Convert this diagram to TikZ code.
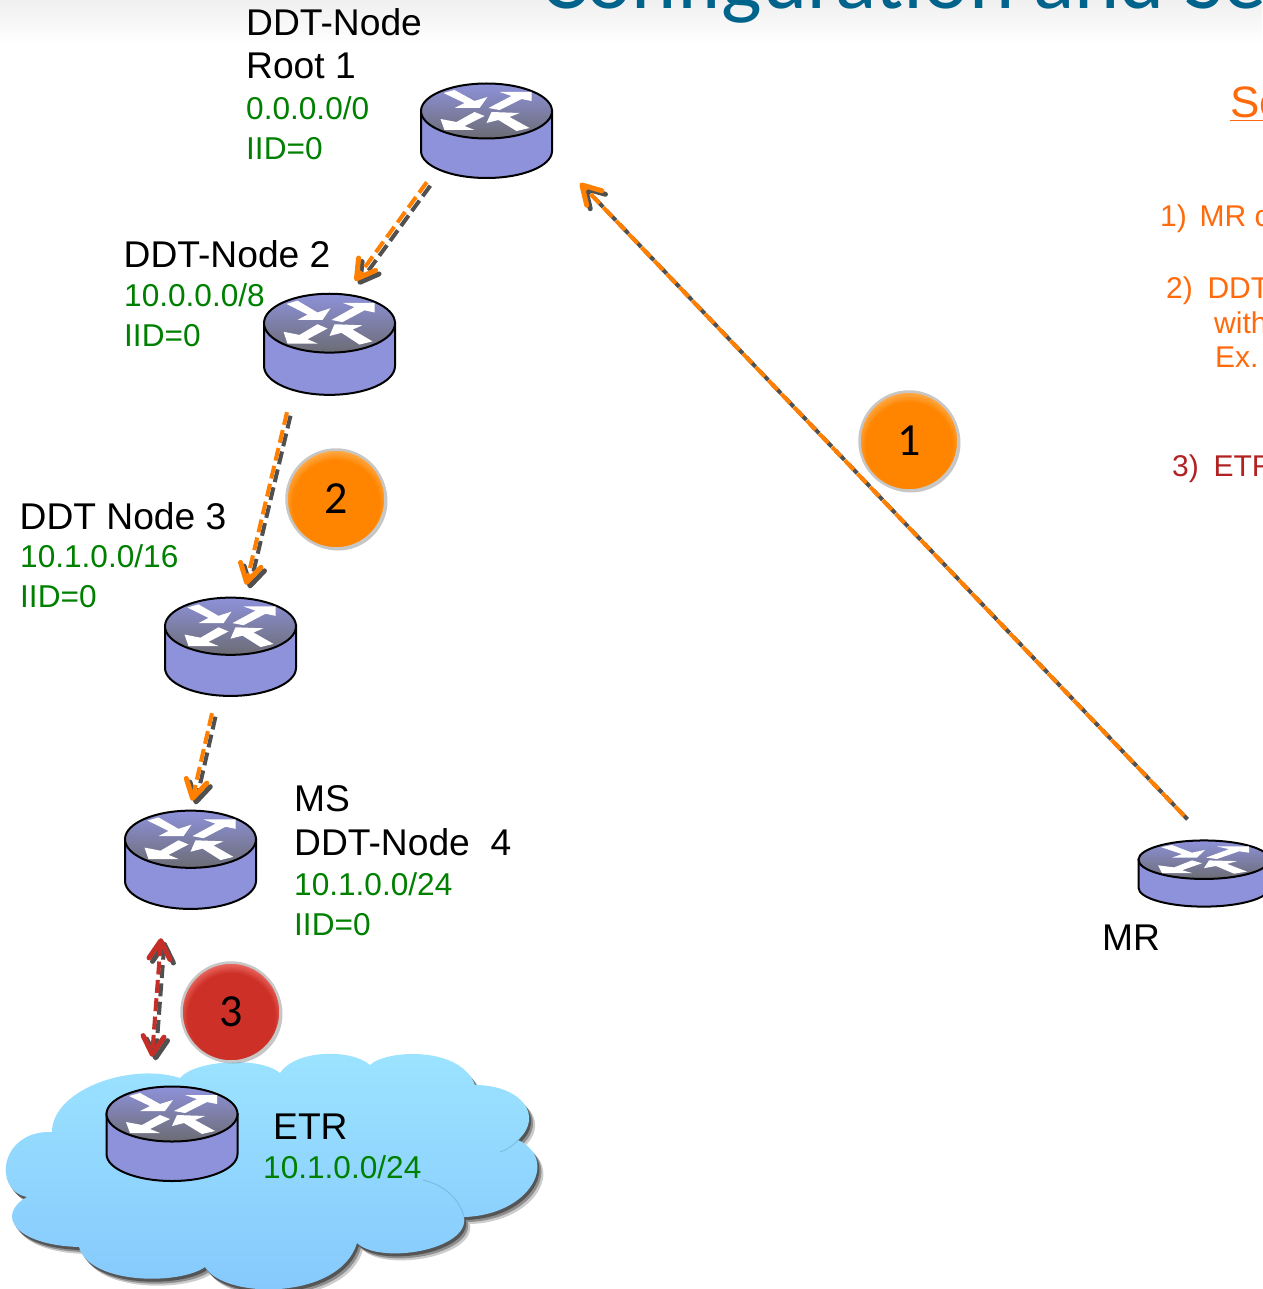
\documentclass[tikz,border=0pt]{standalone}
\usepackage{fontspec}
\setmainfont{Liberation Sans}
\newfontfamily\calfont{Carlito}
\usetikzlibrary{arrows.meta,shadows}

\definecolor{routerblue}{HTML}{8E92DA}
\definecolor{routergray}{HTML}{6C6C74}
\definecolor{addrgreen}{HTML}{008000}
\definecolor{titleblue}{HTML}{00638C}
\definecolor{steporange}{HTML}{FF6A0C}
\definecolor{stepred}{HTML}{B22222}
\definecolor{ballorange}{HTML}{FF8500}
\definecolor{ballorangelight}{HTML}{FFAE50}
\definecolor{ballred}{HTML}{CC3027}
\definecolor{ballredlight}{HTML}{EC6C64}
\definecolor{lineorange}{HTML}{FF8000}
\definecolor{linered}{HTML}{C42E26}
\definecolor{lineshadow}{HTML}{505050}
\definecolor{cloudtop}{HTML}{9CE4FF}
\definecolor{cloudbottom}{HTML}{85C8FD}

\pgfdeclareradialshading{orangeshade}{\pgfpoint{0bp}{-3bp}}{color(0bp)=(ballorange); color(22bp)=(ballorange); color(27bp)=(ballorangelight); color(100bp)=(ballorangelight)}
\pgfdeclareradialshading{redshade}{\pgfpoint{0bp}{-3bp}}{color(0bp)=(ballred); color(22bp)=(ballred); color(27bp)=(ballredlight); color(100bp)=(ballredlight)}

\begin{document}
\begin{tikzpicture}[x=1pt,y=1pt,>={Straight Barb[length=18pt,width=21pt,line width=5pt,round]}]
  \tikzstyle{router}[1]=[rectangle,inner sep=0pt,minimum width=136,minimum height=#1*100,
    path picture={
      \begin{scope}[shift={(path picture bounding box.center)},y=#1pt]
        \filldraw[fill=routerblue,draw=black,line width=2pt] (-65.5,19) -- (-65.5,-21)
          .. controls (-65.5,-36) and (-36,-48) .. (0,-48)
          .. controls (36,-48) and (65.5,-36) .. (65.5,-21) -- (65.5,19) -- cycle;
        \shade[top color=routerblue,bottom color=routergray,draw=black,line width=2pt]
          (0,19) ellipse (65.5 and 27.5);
        \fill[white] (-43,37) -- (-32,40) -- (-12,29) -- (1,33) -- (-7,22) -- (-32,22) -- (-22,27) -- cycle;
        \fill[white] (2,22) -- (25,34) -- (13,38) -- (45,38) -- (45,29) -- (35,31) -- (13,20) -- cycle;
        \fill[white] (-2,14) -- (-12,18) -- (-30,8) -- (-46,11) -- (-42,0) -- (-12,0) -- (-22,4) -- cycle;
        \fill[white] (0,7) -- (5,18) -- (33,17) -- (23,13) -- (43,2) -- (30,-1) -- (12,10) -- cycle;
      \end{scope}}]
  \tikzstyle{nodelabel}=[inner sep=0pt,anchor=base west,font=\fontsize{37.2}{42}\selectfont]
  \tikzstyle{addr}=[inner sep=0pt,anchor=base west,text=addrgreen,font=\fontsize{31.6}{36}\selectfont]
  \tikzstyle{steptext}=[inner sep=0pt,anchor=base west,text=steporange,font=\fontsize{30}{34}\selectfont]
  \tikzstyle{flow}=[line width=4pt,dash pattern=on 13pt off 5.4pt]
  \tikzstyle{ball}[1]=[circle,minimum size=99,inner sep=0pt,draw=black!22,line width=2.5pt,
    shade,shading=#1shade,
    drop shadow={shadow xshift=2pt,shadow yshift=-2pt,opacity=.45},
    font=\calfont\fontsize{46}{50}\selectfont]

  \useasboundingbox (0,0) rectangle (1262,-1289);

  % header band and title
  \shade[top color=black!6,bottom color=white] (0,0) rectangle (1262,-44);
  \node[inner sep=0pt,anchor=base west,text=titleblue,font=\calfont\fontsize{86}{90}\selectfont] (title) at (540,-9) {Configuration and Se};

  % cloud
  \shade[top color=cloudtop,bottom color=cloudbottom,
    drop shadow={shadow xshift=6pt,shadow yshift=-7pt,opacity=.2,fill=black},
    drop shadow={shadow xshift=4pt,shadow yshift=-5pt,opacity=.3,fill=black},
    drop shadow={shadow xshift=2pt,shadow yshift=-3pt,opacity=.4,fill=black}]
    (27,-1197) .. controls (-8,-1190) and (0,-1130) .. (52,-1132)
    .. controls (52,-1090) and (130,-1062) .. (180,-1078)
    .. controls (195,-1060) and (260,-1056) .. (280,-1073)
    .. controls (295,-1050) and (350,-1048) .. (370,-1065)
    .. controls (385,-1050) and (460,-1045) .. (475,-1085)
    .. controls (520,-1085) and (545,-1115) .. (518,-1140)
    .. controls (560,-1160) and (530,-1215) .. (464,-1217)
    .. controls (470,-1250) and (380,-1265) .. (357,-1243)
    .. controls (340,-1300) and (225,-1300) .. (205,-1267)
    .. controls (180,-1285) and (90,-1285) .. (79,-1247)
    .. controls (15,-1245) and (-5,-1215) .. (27,-1197) -- cycle;
  \draw[cloudbottom!70!black,opacity=.35,line width=1pt] (423,-1180) .. controls (445,-1185) and (460,-1200) .. (464,-1217);
  \draw[cloudbottom!70!black,opacity=.35,line width=1pt] (500,-1152) .. controls (508,-1149) and (514,-1145) .. (518,-1140);

  % routers
  \node[router=1] (R1) at (486.5,-130) {};
  \node[router=1.07] (R2) at (329.5,-343.5) {};
  \node[router=1.04] (R3) at (230.5,-646) {};
  \node[router=1.04] (R4) at (190.5,-859) {};
  \node[router=1] (ETR) at (172,-1133) {};
  \node[router=.7] (MR) at (1204,-873) {};

  % labels
  \node[nodelabel] (t1a) at (246,-36) {DDT-Node};
  \node[nodelabel] (t1b) at (246,-79) {Root 1};
  \node[addr] (a1a) at (246,-120) {0.0.0.0/0};
  \node[addr] (a1b) at (246,-160) {IID=0};
  \node[nodelabel] (t2) at (123.5,-267) {DDT-Node 2};
  \node[addr] (a2a) at (124,-306) {10.0.0.0/8};
  \node[addr] (a2b) at (124,-346) {IID=0};
  \node[nodelabel] (t3) at (19.5,-529) {DDT Node 3};
  \node[addr] (a3a) at (20,-567) {10.1.0.0/16};
  \node[addr] (a3b) at (20,-607) {IID=0};
  \node[nodelabel] (t4a) at (294,-811) {MS};
  \node[nodelabel] (t4b) at (294,-855) {DDT-Node\ \ 4};
  \node[addr] (a4a) at (294,-895) {10.1.0.0/24};
  \node[addr] (a4b) at (294,-935) {IID=0};
  \node[nodelabel] (t5) at (273,-1139) {ETR};
  \node[addr] (a5) at (263,-1178) {10.1.0.0/24};
  \node[nodelabel] (t6) at (1102,-950) {MR};

  % steps on the right
  \node[steptext,font=\fontsize{44}{50}\selectfont] (s0) at (1230,-118) {\underline{Se}};
  \node[steptext] (s1) at (1160,-227) {1)\hspace{12.7pt}MR c};
  \node[steptext] (s2) at (1166,-298) {2)\hspace{14.7pt}DDT};
  \node[steptext] (s2b) at (1214,-333) {with};
  \node[steptext] (s2c) at (1215,-367) {Ex.};
  \node[steptext,text=stepred] (s3) at (1172,-476) {3)\hspace{14.7pt}ETR};

  % connectors
  \foreach \col/\dx/\dy in {lineshadow/3.5/-3.5,lineorange/0/0} {
    \begin{scope}[transform canvas={xshift=\dx,yshift=\dy}]
      \draw[flow,draw=\col,->] ([xshift=-20,yshift=22]MR.north) -- ([xshift=25.5,yshift=-3]R1.south east);
      \draw[flow,draw=\col,->] ([xshift=8.5,yshift=-2]R1.south west) -- ([xshift=25.5,yshift=9]R2.north);
      \draw[flow,draw=\col,->] ([xshift=-42.5,yshift=-15]R2.south) -- ([xshift=15.5,yshift=9]R3.north);
      \draw[flow,draw=\col,->] ([xshift=-18.5,yshift=-15]R3.south) -- ([xshift=1.5,yshift=6]R4.north);
    \end{scope}
  }
  \foreach \col/\dx/\dy in {lineshadow/3.5/-3.5,linered/0/0} {
    \begin{scope}[transform canvas={xshift=\dx,yshift=\dy}]
      \draw[flow,draw=\col,<->] ([xshift=-29.5,yshift=-27]R4.south) -- ([xshift=-20,yshift=26]ETR.north);
    \end{scope}
  }

  % step balls
  \node[ball=orange] (b1) at (909,-441) {1};
  \node[ball=orange] (b2) at (336,-499) {2};
  \node[ball=red] (b3) at (231,-1012) {3};
\end{tikzpicture}
\end{document}
